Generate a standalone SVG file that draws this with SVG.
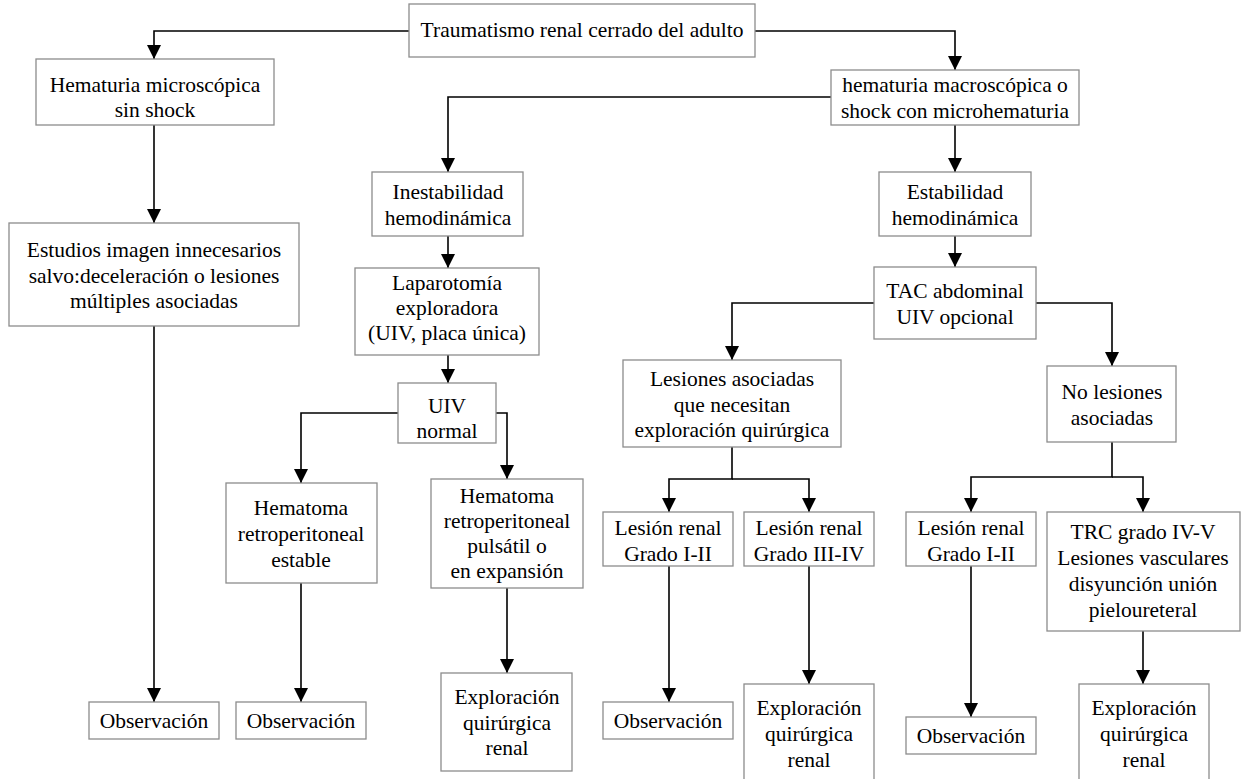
<svg xmlns="http://www.w3.org/2000/svg" width="1244" height="779" viewBox="0 0 1244 779">
<style>
.box{fill:#fff;stroke:#8c8c8c;stroke-width:1.3}
.t{font-size:21.5px;fill:#000;text-anchor:middle}
.c{fill:none;stroke:#000;stroke-width:1.6}
</style>
<defs>
<marker id="ah" viewBox="0 0 14 14" refX="14" refY="7" markerWidth="14" markerHeight="14" markerUnits="userSpaceOnUse" orient="auto">
<path d="M0,0 L14,7 L0,14 z" fill="#000"/>
</marker>
</defs>
<rect width="1244" height="779" fill="#fff"/>
<g id="connectors">
<path class="c" d="M409,31 H154 V59" marker-end="url(#ah)"/>
<path class="c" d="M755,31 H955 V70" marker-end="url(#ah)"/>
<path class="c" d="M154,125 V223" marker-end="url(#ah)"/>
<path class="c" d="M154,326 V702" marker-end="url(#ah)"/>
<path class="c" d="M831,97 H448 V172" marker-end="url(#ah)"/>
<path class="c" d="M955,125 V172" marker-end="url(#ah)"/>
<path class="c" d="M448,236 V268" marker-end="url(#ah)"/>
<path class="c" d="M448,355 V383" marker-end="url(#ah)"/>
<path class="c" d="M398,413 H301 V483" marker-end="url(#ah)"/>
<path class="c" d="M496,413 H507 V479" marker-end="url(#ah)"/>
<path class="c" d="M301,583 V702" marker-end="url(#ah)"/>
<path class="c" d="M507,588 V673" marker-end="url(#ah)"/>
<path class="c" d="M955,236 V267" marker-end="url(#ah)"/>
<path class="c" d="M874,303 H732 V360" marker-end="url(#ah)"/>
<path class="c" d="M1036,303 H1112 V366" marker-end="url(#ah)"/>
<path class="c" d="M732,447 V479 H669 V512" marker-end="url(#ah)"/>
<path class="c" d="M732,479 H809 V512" marker-end="url(#ah)"/>
<path class="c" d="M1112,442 V477 H971 V512" marker-end="url(#ah)"/>
<path class="c" d="M1112,477 H1143 V512" marker-end="url(#ah)"/>
<path class="c" d="M669,566 V702" marker-end="url(#ah)"/>
<path class="c" d="M809,566 V684" marker-end="url(#ah)"/>
<path class="c" d="M971,566 V717" marker-end="url(#ah)"/>
<path class="c" d="M1143,631 V684" marker-end="url(#ah)"/>
</g>
<g font-family="Liberation Serif, serif">
<g id="n1"><rect class="box" x="409" y="4" width="346" height="53"/><text class="t" x="582" y="37">Traumatismo renal cerrado del adulto</text></g>
<g id="n2"><rect class="box" x="36" y="59" width="238" height="66"/><text class="t" x="155" y="92">Hematuria microscópica</text><text class="t" x="155" y="117">sin shock</text></g>
<g id="n3"><rect class="box" x="831" y="70" width="248" height="55"/><text class="t" x="955" y="92">hematuria macroscópica o</text><text class="t" x="955" y="118">shock con microhematuria</text></g>
<g id="n4"><rect class="box" x="9" y="223" width="290" height="103"/><text class="t" x="154" y="257">Estudios imagen innecesarios</text><text class="t" x="154" y="283">salvo:deceleración o lesiones</text><text class="t" x="154" y="308">múltiples asociadas</text></g>
<g id="n5"><rect class="box" x="372" y="172" width="151" height="64"/><text class="t" x="448" y="199">Inestabilidad</text><text class="t" x="448" y="225">hemodinámica</text></g>
<g id="n6"><rect class="box" x="879" y="172" width="152" height="64"/><text class="t" x="955" y="199">Estabilidad</text><text class="t" x="955" y="225">hemodinámica</text></g>
<g id="n7"><rect class="box" x="355" y="268" width="184" height="87"/><text class="t" x="447" y="290">Laparotomía</text><text class="t" x="447" y="315">exploradora</text><text class="t" x="447" y="340">(UIV, placa única)</text></g>
<g id="n8"><rect class="box" x="398" y="383" width="98" height="60"/><text class="t" x="447" y="413">UIV</text><text class="t" x="447" y="438">normal</text></g>
<g id="n9"><rect class="box" x="226" y="483" width="151" height="100"/><text class="t" x="301" y="515">Hematoma</text><text class="t" x="301" y="541">retroperitoneal</text><text class="t" x="301" y="567">estable</text></g>
<g id="n10"><rect class="box" x="431" y="479" width="152" height="109"/><text class="t" x="507" y="503">Hematoma</text><text class="t" x="507" y="528">retroperitoneal</text><text class="t" x="507" y="553">pulsátil o</text><text class="t" x="507" y="578">en expansión</text></g>
<g id="n11"><rect class="box" x="89" y="702" width="130" height="37"/><text class="t" x="154" y="728">Observación</text></g>
<g id="n12"><rect class="box" x="236" y="702" width="130" height="37"/><text class="t" x="301" y="728">Observación</text></g>
<g id="n13"><rect class="box" x="441" y="673" width="131" height="98"/><text class="t" x="507" y="704">Exploración</text><text class="t" x="507" y="730">quirúrgica</text><text class="t" x="507" y="755">renal</text></g>
<g id="n14"><rect class="box" x="874" y="267" width="162" height="72"/><text class="t" x="955" y="298">TAC abdominal</text><text class="t" x="955" y="324">UIV opcional</text></g>
<g id="n15"><rect class="box" x="623" y="360" width="218" height="87"/><text class="t" x="732" y="386">Lesiones asociadas</text><text class="t" x="732" y="412">que necesitan</text><text class="t" x="732" y="437">exploración quirúrgica</text></g>
<g id="n16"><rect class="box" x="1047" y="366" width="129" height="76"/><text class="t" x="1112" y="399">No lesiones</text><text class="t" x="1112" y="425">asociadas</text></g>
<g id="n17"><rect class="box" x="603" y="512" width="130" height="54"/><text class="t" x="668" y="535">Lesión renal</text><text class="t" x="668" y="561">Grado I-II</text></g>
<g id="n18"><rect class="box" x="744" y="512" width="130" height="54"/><text class="t" x="809" y="535">Lesión renal</text><text class="t" x="809" y="561">Grado III-IV</text></g>
<g id="n19"><rect class="box" x="603" y="702" width="130" height="37"/><text class="t" x="668" y="728">Observación</text></g>
<g id="n20"><rect class="box" x="744" y="684" width="130" height="106"/><text class="t" x="809" y="715">Exploración</text><text class="t" x="809" y="741">quirúrgica</text><text class="t" x="809" y="767">renal</text></g>
<g id="n21"><rect class="box" x="906" y="512" width="130" height="54"/><text class="t" x="971" y="535">Lesión renal</text><text class="t" x="971" y="561">Grado I-II</text></g>
<g id="n22"><rect class="box" x="1047" y="512" width="193" height="119"/><text class="t" x="1143" y="539">TRC grado IV-V</text><text class="t" x="1143" y="565">Lesiones vasculares</text><text class="t" x="1143" y="591">disyunción unión</text><text class="t" x="1143" y="617">pieloureteral</text></g>
<g id="n23"><rect class="box" x="906" y="717" width="130" height="37"/><text class="t" x="971" y="743">Observación</text></g>
<g id="n24"><rect class="box" x="1079" y="684" width="130" height="106"/><text class="t" x="1144" y="715">Exploración</text><text class="t" x="1144" y="741">quirúrgica</text><text class="t" x="1144" y="767">renal</text></g>
</g>
</svg>
